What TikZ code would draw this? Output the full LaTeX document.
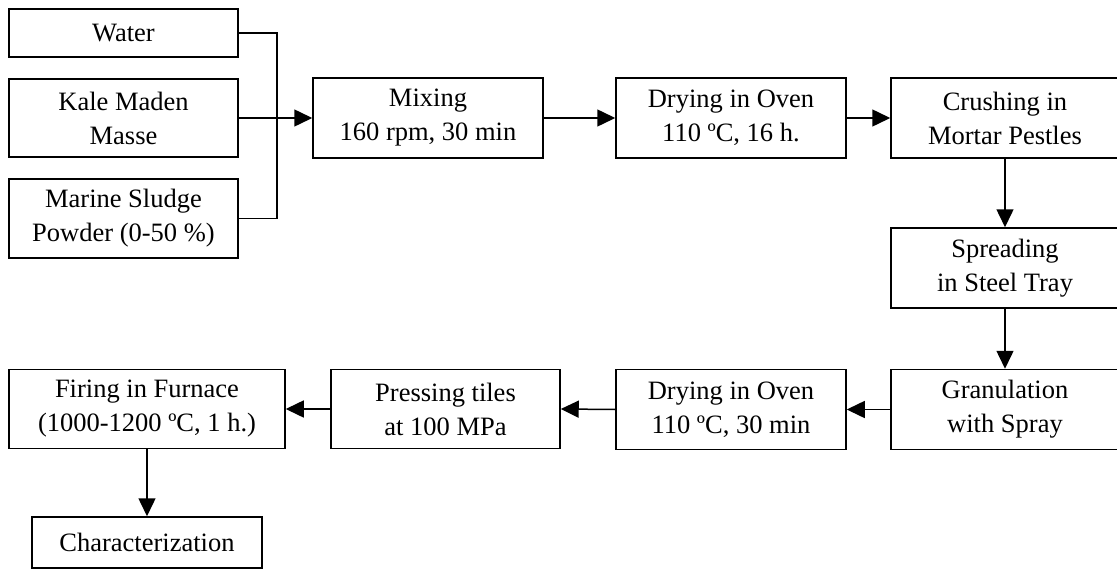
\documentclass[tikz,border=0pt]{standalone}
\usepackage{fontspec}
\setmainfont{Liberation Serif}
\usetikzlibrary{arrows.meta}
\begin{document}
\begin{tikzpicture}[x=1pt,y=-1pt,
  stepbox/.style={draw,line width=1.5pt,rectangle,align=center,inner sep=0pt,
    minimum width=230pt,font=\fontsize{26.5}{34}\selectfont},
  conn/.style={line width=1.5pt},
  flow/.style={line width=1.5pt,-{Triangle[length=18pt,width=17pt]}}]
\useasboundingbox (0,0) rectangle (1117,570);
\node[stepbox,minimum width=229pt,minimum height=48pt] (water) at (123.5,33) {Water};
\node[stepbox,minimum width=229pt,minimum height=78pt] (kale) at (123.5,118) {Kale Maden\\Masse};
\node[stepbox,minimum width=229pt,minimum height=79pt] (marine) at (123.5,218.5) {Marine Sludge\\Powder (0-50 \%)};
\node[stepbox,minimum height=80pt] (mix) at (428,118) {Mixing\\160 rpm, 30 min};
\node[stepbox,minimum height=80pt] (dry1) at (731,118) {Drying in Oven\\110 ºC, 16 h.};
\node[stepbox,minimum width=228pt,minimum height=80pt] (crush) at (1005,118) {Crushing in\\Mortar Pestles};
\node[stepbox,minimum width=228pt,minimum height=80pt] (spread) at (1005,268) {Spreading\\in Steel Tray};
\node[stepbox,minimum width=228pt,minimum height=80pt] (gran) at (1005,409.5) {Granulation\\with Spray};
\node[stepbox,minimum height=80pt] (dry2) at (731,409.5) {Drying in Oven\\110 ºC, 30 min};
\node[stepbox,minimum width=229pt,minimum height=79pt] (press) at (445.5,409) {Pressing tiles\\at 100 MPa};
\node[stepbox,minimum width=276pt,minimum height=79pt] (fire) at (147,409) {Firing in Furnace\\(1000-1200 ºC, 1 h.)};
\node[stepbox,minimum height=51pt] (char) at (147,542.5) {Characterization};
\coordinate (bt) at (277,33);
\coordinate (bb) at (277,218.5);
\draw[conn] (water.east) -- (bt) -- (bb) -- (marine.east);
\draw[flow] (kale.east) -- (mix.west);
\draw[flow] (mix.east) -- (dry1.west);
\draw[flow] (dry1.east) -- (crush.west);
\draw[flow] (crush.south) -- (spread.north);
\draw[flow] (spread.south) -- (gran.north);
\draw[flow] (gran.west) -- (dry2.east);
\draw[flow] (dry2.west) -- (press.east);
\draw[flow] (press.west) -- (fire.east);
\draw[flow] (fire.south) -- (char.north);
\end{tikzpicture}
\end{document}
